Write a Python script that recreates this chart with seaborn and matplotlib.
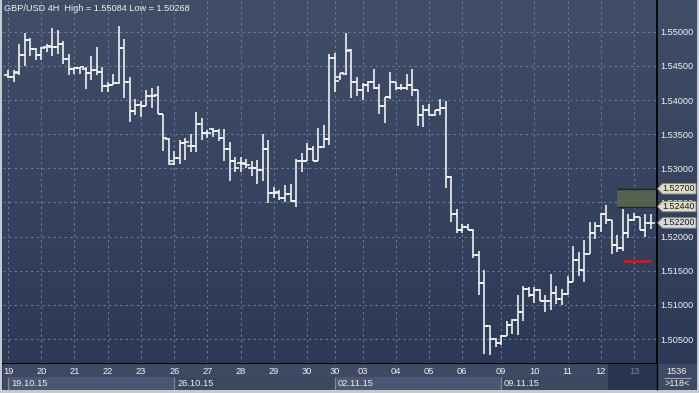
import numpy as np
import pandas as pd
import matplotlib
matplotlib.use("Agg")
import matplotlib.pyplot as plt
import seaborn as sns
from matplotlib.patches import Rectangle, Polygon

sns.set_style("dark")
plt.rcParams['font.family'] = ['Liberation Sans', 'DejaVu Sans']

# ---------------- data ----------------
opens = [1.5436, 1.5434, 1.5440, 1.5466, 1.5488, 1.5474, 1.5466, 1.5477, 1.5478, 1.5477,
         1.5482, 1.5460, 1.5446, 1.5447, 1.5446, 1.5439, 1.5444, 1.5441, 1.5421, 1.5422,
         1.5425, 1.5476, 1.5427, 1.5384, 1.5393, 1.5391, 1.5406, 1.5407, 1.5379, 1.5343,
         1.5306, 1.5315, 1.5337, 1.5333, 1.5333, 1.5365, 1.5351, 1.5357, 1.5355, 1.5345,
         1.5328, 1.5311, 1.5308, 1.5307, 1.5300, 1.5300, 1.5298, 1.5328, 1.5264, 1.5266,
         1.5256, 1.5262, 1.5252, 1.5311, 1.5311, 1.5328, 1.5310, 1.5331, 1.5343, 1.5461,
         1.5434, 1.5438, 1.5473, 1.5427, 1.5414, 1.5422, 1.5427, 1.5418, 1.5391, 1.5404,
         1.5426, 1.5418, 1.5418, 1.5422, 1.5415, 1.5378, 1.5386, 1.5378, 1.5385, 1.5388,
         1.5287, 1.5233, 1.5209, 1.5214, 1.5210, 1.5173, 1.5132, 1.5069, 1.5050, 1.5044,
         1.5054, 1.5070, 1.5078, 1.5089, 1.5124, 1.5115, 1.5122, 1.5106, 1.5106, 1.5118,
         1.5109, 1.5116, 1.5133, 1.5166, 1.5151, 1.5175, 1.5206, 1.5215, 1.5233, 1.5224,
         1.5188, 1.5184, 1.5205, 1.5225, 1.5228, 1.5209, 1.5220]
highs = [1.5444, 1.5444, 1.5482, 1.5498, 1.5491, 1.5476, 1.5478, 1.5482, 1.5506, 1.5503,
         1.5486, 1.5467, 1.5449, 1.5449, 1.5449, 1.5464, 1.5478, 1.5449, 1.5427, 1.5438,
         1.55084, 1.5489, 1.5434, 1.5401, 1.5399, 1.5415, 1.5418, 1.5421, 1.5379, 1.5344,
         1.5325, 1.5342, 1.5344, 1.5350, 1.5382, 1.5373, 1.5356, 1.5359, 1.5358, 1.5358,
         1.5338, 1.5317, 1.5317, 1.5314, 1.5311, 1.5312, 1.5350, 1.5342, 1.5272, 1.5268,
         1.5276, 1.5277, 1.5314, 1.5322, 1.5337, 1.5333, 1.5359, 1.5364, 1.5468, 1.5469,
         1.5440, 1.5498, 1.5474, 1.5434, 1.5425, 1.5428, 1.5446, 1.5424, 1.5405, 1.5441,
         1.5427, 1.5424, 1.5438, 1.5445, 1.5415, 1.5393, 1.5394, 1.5386, 1.5402, 1.5398,
         1.5288, 1.5240, 1.5219, 1.5219, 1.5211, 1.5179, 1.5151, 1.5071, 1.5051, 1.5056,
         1.5077, 1.5079, 1.5114, 1.5128, 1.5126, 1.5126, 1.5123, 1.5115, 1.5145, 1.5128,
         1.5123, 1.5142, 1.5186, 1.5178, 1.5195, 1.5222, 1.5222, 1.5234, 1.5246, 1.5225,
         1.5202, 1.5241, 1.5233, 1.5235, 1.5229, 1.5233, 1.5233]
lows = [1.5432, 1.5427, 1.5437, 1.5450, 1.5464, 1.5459, 1.5458, 1.5471, 1.5465, 1.5468,
        1.5452, 1.5436, 1.5438, 1.5438, 1.5416, 1.5429, 1.5436, 1.5412, 1.5411, 1.5422,
        1.5423, 1.5403, 1.5368, 1.5378, 1.5375, 1.5391, 1.5388, 1.5379, 1.5325, 1.5305,
        1.5305, 1.5307, 1.5312, 1.5324, 1.5324, 1.5342, 1.5345, 1.5346, 1.5340, 1.5311,
        1.5282, 1.5295, 1.5294, 1.5300, 1.5289, 1.5277, 1.5281, 1.5249, 1.5257, 1.5254,
        1.5251, 1.5250, 1.5243, 1.5295, 1.5310, 1.5310, 1.5310, 1.5330, 1.5334, 1.5411,
        1.5429, 1.5437, 1.5403, 1.5406, 1.5400, 1.5411, 1.5416, 1.5380, 1.5367, 1.5401,
        1.5414, 1.5414, 1.5414, 1.5406, 1.5362, 1.5360, 1.5376, 1.5377, 1.5378, 1.5271,
        1.5222, 1.5205, 1.5205, 1.5209, 1.5168, 1.5115, 1.5028, 1.50268, 1.5039, 1.5041,
        1.5054, 1.5057, 1.5056, 1.5076, 1.5112, 1.5103, 1.5106, 1.5090, 1.5092, 1.5101,
        1.5100, 1.5115, 1.5133, 1.5142, 1.5133, 1.5175, 1.5196, 1.5207, 1.5219, 1.5175,
        1.5177, 1.5179, 1.5198, 1.5223, 1.5209, 1.5199, 1.5211]
closes = [1.5434, 1.5441, 1.5466, 1.5488, 1.5474, 1.5466, 1.5476, 1.5479, 1.5477, 1.5482,
          1.5460, 1.5446, 1.5447, 1.5448, 1.5439, 1.5444, 1.5441, 1.5421, 1.5422, 1.5425,
          1.5476, 1.5427, 1.5384, 1.5393, 1.5391, 1.5406, 1.5406, 1.5379, 1.5344, 1.5311,
          1.5315, 1.5337, 1.5338, 1.5333, 1.5365, 1.5351, 1.5351, 1.5355, 1.5345, 1.5328,
          1.5311, 1.5301, 1.5308, 1.5305, 1.5300, 1.5298, 1.5328, 1.5264, 1.5264, 1.5256,
          1.5262, 1.5252, 1.5311, 1.5311, 1.5328, 1.5310, 1.5331, 1.5343, 1.5461, 1.5428,
          1.5439, 1.5472, 1.5427, 1.5414, 1.5422, 1.5427, 1.5418, 1.5391, 1.5404, 1.5426,
          1.5418, 1.5418, 1.5422, 1.5414, 1.5378, 1.5386, 1.5378, 1.5385, 1.5388, 1.5287,
          1.5233, 1.5209, 1.5214, 1.5210, 1.5173, 1.5132, 1.5069, 1.5050, 1.5044, 1.5054,
          1.5070, 1.5078, 1.5089, 1.5124, 1.5115, 1.5122, 1.5106, 1.5106, 1.5118, 1.5109,
          1.5116, 1.5133, 1.5166, 1.5151, 1.5175, 1.5206, 1.5215, 1.5233, 1.5224, 1.5188,
          1.5184, 1.5205, 1.5225, 1.5228, 1.5209, 1.5220, 1.5220]

day_labels = ["19", "20", "21", "22", "23", "26", "27", "28", "29", "30",
              "30", "03", "04", "05", "06", "09", "10", "11", "12", "13"]
day_start = [0, 6, 12, 18, 24, 30, 36, 42, 48, 54, 59, 64, 70, 76, 82, 89, 95, 101, 107, 113]
week_labels = ["19.10.15", "26.10.15", "02.11.15", "09.11.15"]
week_start = [0, 30, 59, 89]
price_ticks = [1.505, 1.510, 1.515, 1.520, 1.525, 1.530, 1.535, 1.540, 1.545, 1.550]

title = "GBP/USD 4H  High = 1.55084 Low = 1.50268"
zone_low, zone_high = 1.5244, 1.5270
red_level = 1.5165
last_price = 1.5220
bar_count_text = "1536"
bar_shift_text = ">118<"

df = pd.DataFrame({"open": opens, "high": highs, "low": lows, "close": closes})
df["i"] = np.arange(len(df))

# ---------------- layout ----------------
W, H = 699, 393
fig = plt.figure(figsize=(W / 100, H / 100), dpi=100)

def px(x0, y0, x1, y1):
    return [x0 / W, 1 - y1 / H, (x1 - x0) / W, (y1 - y0) / H]

# background gradient
bg = fig.add_axes([0, 0, 1, 1], zorder=-10)
top = np.array([64, 78, 104]) / 255
bot = np.array([43, 56, 85]) / 255
t = np.linspace(0, 1, 256)[:, None]
grad = (top[None, :] * (1 - t) + bot[None, :] * t)[:, None, :]
bg.imshow(grad, aspect='auto', extent=[0, 1, 0, 1])
bg.set_axis_off()

XL = (-0.9, 117.15)
YL = (1.55 - (364 - 31.7) / 6830, 1.55 + 31.7 / 6830)

ax = fig.add_axes(px(3, 0, 657, 364))
ax.set_facecolor('none')
ax.set_xlim(*XL)
ax.set_ylim(*YL)

# grid
ax.set_xticks(day_start)
ax.set_xticklabels([])
ax.set_yticks(price_ticks)
ax.grid(True, color='#6d7d9c', linestyle=(0, (2, 3)), linewidth=0.8)
ax.tick_params(axis='both', length=0)
ax.yaxis.tick_right()
ax.set_yticklabels([f"{v:.5f}" for v in price_ticks])
ax.tick_params(axis='y', colors='#f2f2f2', labelsize=6.6, pad=2.5)
for s in ['left', 'top']:
    ax.spines[s].set_visible(False)
ax.spines['right'].set_color('black')
ax.spines['right'].set_linewidth(1.3)
ax.spines['bottom'].set_color('black')
ax.spines['bottom'].set_linewidth(1.5)

# green zone and red level
ax.add_patch(Rectangle((109.9, zone_low), XL[1] - 109.9, zone_high - zone_low,
                       facecolor='#566250', edgecolor='none', zorder=2))
ax.hlines([zone_low, zone_high], 109.9, XL[1], color='#1d2620', lw=1.0, zorder=2)
ax.hlines(red_level, 111.0, 116.1, color='#d2161c', lw=2.2, zorder=3)

# OHLC bars
tk = 0.72
ax.vlines(df["i"], df["low"], df["high"], color='white', lw=1.1, zorder=4)
ax.hlines(df["open"], df["i"] - tk, df["i"], color='white', lw=1.1, zorder=4)
ax.hlines(df["close"], df["i"], df["i"] + tk, color='white', lw=1.1, zorder=4)

fig.text(4 / W, 1 - 8.5 / H, title, color='#f0f0f0', fontsize=6.6, va='center', ha='left')

# ---------------- date strip ----------------
dax = fig.add_axes(px(3, 364, 657, 390))
dax.set_xlim(*XL)
dax.set_ylim(0, 1)
dax.set_axis_off()
dax.add_patch(Rectangle((XL[0], 0), XL[1] - XL[0], 1, facecolor='#3e4a64', edgecolor='none'))
wcols = ['#4b5772', '#3c4760', '#4b5772', '#3c4760']
for k, (ws, wl) in enumerate(zip(week_start, week_labels)):
    we = week_start[k + 1] if k + 1 < len(week_start) else XL[1]
    dax.add_patch(Rectangle((ws, 0.0), we - ws, 0.5, facecolor=wcols[k], edgecolor='none'))
    dax.vlines(ws, 0.0, 0.5, color='#7c889e', lw=0.9)
    dax.text(ws + 0.55, 0.25, wl, color='#f0f0f0', fontsize=6.7, va='center', ha='left')
dax.add_patch(Rectangle((108.3, 0), XL[1] - 108.3, 1, facecolor='#29354e', edgecolor='none', zorder=3))
for ds, dl in zip(day_start, day_labels):
    col = '#7d879c' if dl == "13" else '#f0f0f0'
    dax.text(ds, 0.72, dl, color=col, fontsize=6.7, va='center', ha='center', zorder=2 if dl != "13" else 4)

# ---------------- overlay (pixel space) ----------------
ov = fig.add_axes([0, 0, 1, 1], zorder=20)
ov.set_xlim(0, W)
ov.set_ylim(0, H)
ov.set_axis_off()
ov.patch.set_alpha(0)

fig.canvas.draw()
def ypix(p):
    return ax.transData.transform((0, p))[1]

tags = [(zone_high, '#dcdcc4'), (zone_low, '#dcdcc4'), (last_price, '#d3d7df')]
for p, c in tags:
    yc = ypix(p)
    poly = Polygon([(657.5, yc), (662.5, yc + 5.2), (696, yc + 5.2), (696, yc - 5.2), (662.5, yc - 5.2)],
                   closed=True, facecolor=c, edgecolor='#8a8f80', lw=0.6)
    ov.add_patch(poly)
    ov.text(662.5, yc, f"{p:.5f}", color='#1a1a1a', fontsize=6.4, va='center', ha='left')

# corner box
ov.add_patch(Rectangle((657, H - 390), 40, 26, facecolor='#3e4a64', edgecolor='none'))
ov.vlines(657, H - 390, H - 364, color='black', lw=1.0)
ov.text(677, H - 371, bar_count_text, color='#f0f0f0', fontsize=6.6, ha='center', va='center')
ov.text(677, H - 384, bar_shift_text, color='#f0f0f0', fontsize=6.6, ha='center', va='center')
ov.hlines(H - 377.5, 664, 691, color='#9aa2b4', lw=0.8)

# outer border
ov.add_patch(Rectangle((0, 0), 2, H, facecolor='#c5c9d2', edgecolor='none'))
ov.add_patch(Rectangle((0, 0), W, 3, facecolor='#c5c9d2', edgecolor='none'))
ov.add_patch(Rectangle((W - 2, 0), 2, H, facecolor='#c5c9d2', edgecolor='none'))

fig.savefig("out.png", dpi=100)
